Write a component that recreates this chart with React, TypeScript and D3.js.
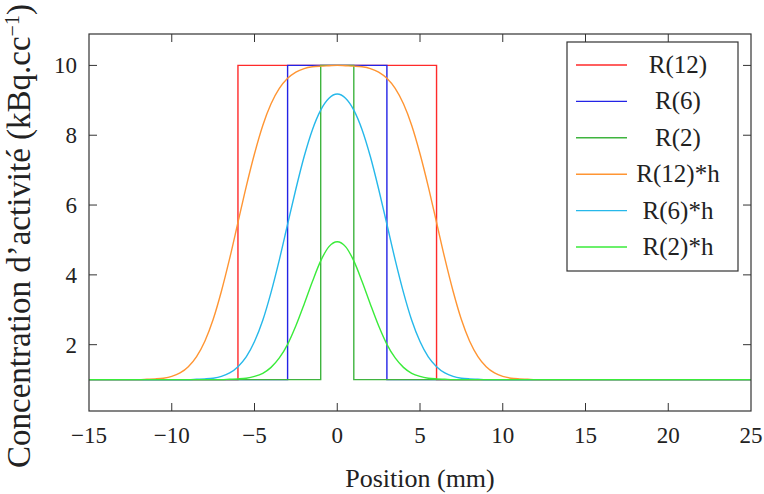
import React from "react";
import * as d3 from "d3";

const xTicks = [-15, -10, -5, 0, 5, 10, 15, 20, 25];
const yTicks = [2, 4, 6, 8, 10];

const rectY = [1, 1, 10, 10, 1, 1];
const r12X = [-15, -6, -6, 6, 6, 25];
const r6X = [-15, -3, -3, 3, 3, 25];
const r2X = [-15, -1, -1, 1, 1, 25];

const convX = [
  -15,
  -12.5, -12, -11.5, -11, -10.5, -10, -9.5, -9, -8.5, -8, -7.5, -7, -6.5, -6, -5.5, -5, -4.5, -4, -3.5, -3, -2.5, -2, -1.5, -1, -0.5,
  0,
  0.5, 1, 1.5, 2, 2.5, 3, 3.5, 4, 4.5, 5, 5.5, 6, 6.5, 7, 7.5, 8, 8.5, 9, 9.5, 10, 10.5, 11, 11.5, 12, 12.5,
  25,
];

const r12h = [
  1,
  1.0, 1.0, 1.01, 1.02, 1.04, 1.09, 1.19, 1.37, 1.66, 2.1, 2.72, 3.53, 4.47, 5.5, 6.53, 7.47, 8.28, 8.9, 9.34, 9.63, 9.81, 9.91, 9.96, 9.98, 9.99,
  10.0,
  9.99, 9.98, 9.96, 9.91, 9.81, 9.63, 9.34, 8.9, 8.28, 7.47, 6.53, 5.5, 4.47, 3.53, 2.72, 2.1, 1.66, 1.37, 1.19, 1.09, 1.04, 1.02, 1.01, 1.0, 1.0,
  1,
];

const r6h = [
  1,
  1, 1, 1, 1, 1, 1, 1, 1.0, 1.01, 1.02, 1.04, 1.09, 1.19, 1.37, 1.65, 2.09, 2.7, 3.5, 4.43, 5.45, 6.46, 7.39, 8.16, 8.72, 9.06,
  9.18,
  9.06, 8.72, 8.16, 7.39, 6.46, 5.45, 4.43, 3.5, 2.7, 2.09, 1.65, 1.37, 1.19, 1.09, 1.04, 1.02, 1.01, 1.0, 1, 1, 1, 1, 1, 1, 1,
  1,
];

const r2h = [
  1,
  1, 1, 1, 1, 1, 1, 1, 1, 1, 1, 1, 1.0, 1.01, 1.02, 1.04, 1.09, 1.18, 1.35, 1.62, 2.01, 2.54, 3.16, 3.81, 4.4, 4.81,
  4.95,
  4.81, 4.4, 3.81, 3.16, 2.54, 2.01, 1.62, 1.35, 1.18, 1.09, 1.04, 1.02, 1.01, 1.0, 1, 1, 1, 1, 1, 1, 1, 1, 1, 1, 1,
  1,
];

const seriesNames = ["R(12)", "R(6)", "R(2)", "R(12)*h", "R(6)*h", "R(2)*h"];
const seriesColors = ["#ff2a2a", "#2323e6", "#3fb43f", "#ff9533", "#26b8ea", "#3aeb3a"];

const W = 764;
const H = 494;
const M = { left: 89, right: 751, top: 34, bottom: 411 };
const FONT = "'Liberation Serif', 'Times New Roman', serif";

export default function App() {
  const x = d3.scaleLinear().domain([-15, 25]).range([M.left, M.right]);
  const y = d3.scaleLinear().domain([0.1, 10.9]).range([M.bottom, M.top]);

  const rectLine = d3
    .line<[number, number]>()
    .x((d) => x(d[0]))
    .y((d) => y(d[1]));
  const smoothLine = d3
    .line<[number, number]>()
    .x((d) => x(d[0]))
    .y((d) => y(d[1]))
    .curve(d3.curveMonotoneX);

  const zip = (xs: number[], ys: number[]) => xs.map((v, i) => [v, ys[i]] as [number, number]);

  const paths = [
    rectLine(zip(r12X, rectY)),
    rectLine(zip(r6X, rectY)),
    rectLine(zip(r2X, rectY)),
    smoothLine(zip(convX, r12h)),
    smoothLine(zip(convX, r6h)),
    smoothLine(zip(convX, r2h)),
  ];

  const tickLen = 8;
  const axisColor = "#333";

  const legend = { x0: 567, y0: 42, x1: 738, y1: 271, lineX0: 576, lineX1: 627, textX: 678, firstY: 65, step: 36.4 };

  return (
    <svg width={W} height={H} style={{ display: "block", position: "absolute", left: 0, top: 0 }} fontFamily={FONT}>
      <defs>
        <clipPath id="plotclip">
          <rect x={M.left} y={M.top} width={M.right - M.left} height={M.bottom - M.top} />
        </clipPath>
      </defs>
      <rect x={0} y={0} width={W} height={H} fill="#fff" />
      <g clipPath="url(#plotclip)">
        {paths.map((p, i) => (
          <path key={i} d={p || ""} fill="none" stroke={seriesColors[i]} strokeWidth={1.4} strokeLinejoin="miter" />
        ))}
      </g>
      {xTicks.slice(1, -1).map((t) => (
        <g key={"xt" + t} stroke={axisColor} strokeWidth={1}>
          <line x1={x(t)} x2={x(t)} y1={M.bottom} y2={M.bottom - tickLen} />
          <line x1={x(t)} x2={x(t)} y1={M.top} y2={M.top + tickLen} />
        </g>
      ))}
      {yTicks.map((t) => (
        <g key={"yt" + t} stroke={axisColor} strokeWidth={1}>
          <line x1={M.left} x2={M.left + tickLen} y1={y(t)} y2={y(t)} />
          <line x1={M.right} x2={M.right - tickLen} y1={y(t)} y2={y(t)} />
        </g>
      ))}
      <rect x={M.left} y={M.top} width={M.right - M.left} height={M.bottom - M.top} fill="none" stroke={axisColor} strokeWidth={1.2} />
      {xTicks.map((t) => (
        <text key={"xl" + t} x={x(t)} y={443} textAnchor="middle" fontSize={23} fill="#222">
          {t < 0 ? "\u2212" + Math.abs(t) : String(t)}
        </text>
      ))}
      {yTicks.map((t) => (
        <text key={"yl" + t} x={77} y={y(t) + 8} textAnchor="end" fontSize={23} fill="#222">
          {String(t)}
        </text>
      ))}
      <text x={(M.left + M.right) / 2} y={487} textAnchor="middle" fontSize={26} fill="#222">
        Position (mm)
      </text>
      <text transform={`translate(30, 468) rotate(-90)`} textAnchor="start" fontSize={33} fill="#222">
        Concentration d’activité (kBq.cc
        <tspan baselineShift="super" fontSize={20}>{"\u22121"}</tspan>)
      </text>
      <rect x={legend.x0} y={legend.y0} width={legend.x1 - legend.x0} height={legend.y1 - legend.y0} fill="#fff" stroke={axisColor} strokeWidth={1.2} />
      {seriesNames.map((n, i) => {
        const ly = legend.firstY + i * legend.step;
        return (
          <g key={n}>
            <line x1={legend.lineX0} x2={legend.lineX1} y1={ly} y2={ly} stroke={seriesColors[i]} strokeWidth={1.4} />
            <text x={legend.textX} y={ly + 8} textAnchor="middle" fontSize={25} fill="#222">
              {n}
            </text>
          </g>
        );
      })}
    </svg>
  );
}
